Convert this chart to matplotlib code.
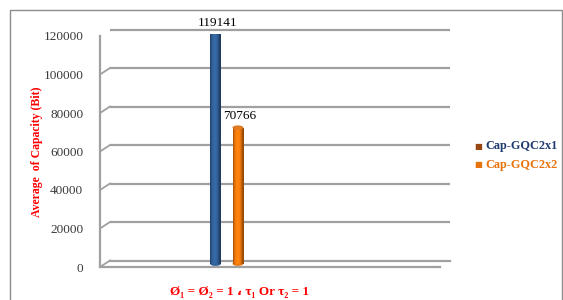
import matplotlib
matplotlib.use("Agg")
import matplotlib.pyplot as plt
import numpy as np
from matplotlib.transforms import ScaledTranslation
from matplotlib.patches import Ellipse, Rectangle
from matplotlib.lines import Line2D

# ---- data ----
category = ["Ø₁ = Ø₂ = 1 ، τ₁ Or τ₂ = 1"]
series = ["Cap-GQC2x1", "Cap-GQC2x2"]
values = [119141, 70766]
yticks = [0, 20000, 40000, 60000, 80000, 100000, 120000]

bar_colors = ["#2F5C92", "#E8730C"]
legend_marker_colors = ["#97470F", "#E8730C"]
legend_text_colors = ["#1F3A6E", "#E8730C"]

W, H = 563, 300
fig = plt.figure(figsize=(W / 100, H / 100), dpi=100)
fig.patch.set_facecolor("white")

# outer border
fig.add_artist(Rectangle((10 / W, -0.05), 552 / W, (290 + 15) / H + 0.0,
                         transform=fig.transFigure, fill=False,
                         edgecolor="#8C8C8C", lw=1.0))

ax_l, ax_r = 100, 440
ax_top, ax_bot = 36, 267
ax = fig.add_axes([ax_l / W, (H - ax_bot) / H, (ax_r - ax_l) / W, (ax_bot - ax_top) / H])
ax.set_facecolor("none")
ax.set_ylim(0, 120000)
ax.set_xlim(-0.358, 0.642)
for s in ax.spines.values():
    s.set_visible(False)

dx, dy = 10, 6.5  # depth offset in px
back = ax.transData + ScaledTranslation(dx / 100, dy / 100, fig.dpi_scale_trans)
mid = ax.transData + ScaledTranslation(dx / 200, dy / 200, fig.dpi_scale_trans)

xmin, xmax = ax.get_xlim()
grid_col = "#A0A0A0"
# back wall gridlines
for v in yticks[1:]:
    ax.plot([xmin, xmax], [v, v], color=grid_col, lw=1.6, transform=back,
            clip_on=False, solid_capstyle="butt")
# diagonal tick connectors
for v in yticks:
    x0, y0 = ax.transData.transform((xmin, v))
    ax.add_artist(Line2D([x0, x0 + dx], [y0, y0 + dy], color=grid_col, lw=1.3,
                         transform=None))
    ax.add_artist(Line2D([x0 - 3, x0], [y0, y0], color=grid_col, lw=1.3,
                         transform=None))
# vertical axis line
ax.plot([xmin, xmin], [0, 120000], color=grid_col, lw=1.6, clip_on=False)
# floor
ax.plot([xmin, xmax], [0, 0], color=grid_col, lw=1.6, clip_on=False)
x1, y1 = ax.transData.transform((xmax, 0))
ax.add_artist(Line2D([x1, x1 + dx], [y1, y1 + dy], color=grid_col, lw=1.6, transform=None))
ax.plot([xmin, xmax], [0, 0], color=grid_col, lw=1.6, transform=back, clip_on=False)

ax.set_yticks(yticks)
ax.set_yticklabels([str(t) for t in yticks], family="Liberation Serif",
                   fontsize=9.5, color="#3A3A3A")
ax.tick_params(axis="y", length=0, pad=12)
ax.set_xticks([])

# bars (cylinders)
bw = 0.032
offs = [-0.033, 0.033]
cap_h = 2200
for i, (v, c) in enumerate(zip(values, bar_colors)):
    xc = 0 + offs[i]
    bars = ax.bar([xc], [v], width=bw, color=c, transform=mid, zorder=3)
    patch = bars.patches[0]
    # cylinder gradient
    t = np.linspace(0, 1, 64)
    shade = np.sin(np.pi * np.clip(t * 1.15, 0, 1)) ** 0.7
    base = np.array(matplotlib.colors.to_rgb(c))
    grad = np.clip(base[None, :] * (0.65 + 0.5 * shade[:, None]), 0, 1)
    img = ax.imshow(grad[None, :, :], extent=[xc - bw / 2, xc + bw / 2, 0, v],
                    aspect="auto", transform=mid, zorder=4, interpolation="bilinear")
    img.set_clip_path(patch)
    ax.add_patch(Ellipse((xc, v), bw, cap_h, transform=mid, facecolor=base * 0.85 + 0.1,
                         edgecolor="none", zorder=5))
    ax.add_patch(Ellipse((xc, 0), bw, cap_h, transform=mid,
                         facecolor=grad[len(grad) // 2] * 0.9, edgecolor="none", zorder=2))
    ax.text(xc + 0.005, v + 3000, f"{v}", transform=mid, ha="center", va="bottom",
            family="Liberation Serif", fontsize=9.5, color="black", zorder=6)

ax.set_xlim(xmin, xmax)
ax.set_ylim(0, 120000)

# axis labels
fig.text(37 / W, 1 - 152 / H, "Average  of Capacity (Bit)", rotation=90,
         ha="center", va="center", family="Liberation Serif", fontweight="bold",
         fontsize=8.5, color="#FF0000")
fig.text(240 / W, 1 - 292 / H, category[0], ha="center", va="center",
         family=["Liberation Serif", "DejaVu Serif", "DejaVu Sans"], fontweight="bold",
         fontsize=9.5, color="#FF0000")

# legend
for i, name in enumerate(series):
    yy = 1 - (146 + i * 19) / H
    fig.text(478 / W, yy, "■", ha="center", va="center", fontsize=6,
             color=legend_marker_colors[i], family="DejaVu Sans")
    fig.text(485 / W, yy, name, ha="left", va="center", family="Liberation Serif",
             fontweight="bold", fontsize=8.8, color=legend_text_colors[i])

fig.savefig("out.png", dpi=100)
